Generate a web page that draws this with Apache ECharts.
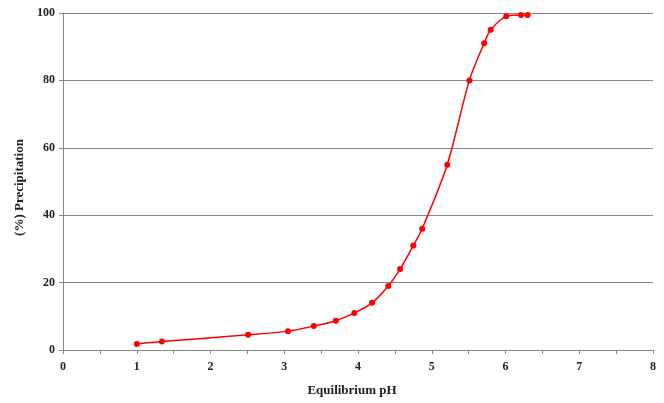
<!DOCTYPE html>
<html>
<head>
<meta charset="utf-8">
<script src="https://cdn.jsdelivr.net/npm/echarts@6/dist/echarts.min.js"></script>
<style>
  html, body { margin: 0; padding: 0; background: #fff; }
  #chart { width: 664px; height: 403px; }
</style>
</head>
<body>
<div id="chart"></div>
<script>
// equilibrium pH vs % precipitation
const phValues = [1.0, 1.34, 2.51, 3.05, 3.40, 3.70, 3.95, 4.19, 4.41, 4.57, 4.75, 4.87, 5.21, 5.51, 5.71, 5.80, 6.01, 6.21, 6.30];
const precipitation = [1.8, 2.5, 4.5, 5.6, 7.1, 8.7, 11.0, 14.0, 19.0, 24.0, 31.0, 36.0, 55.0, 80.0, 91.0, 95.0, 99.0, 99.4, 99.4];

const points = phValues.map((x, i) => [x, precipitation[i]]);

const chart = echarts.init(document.getElementById('chart'));
const labelFont = { fontFamily: 'Liberation Serif', fontWeight: 'bold', fontSize: 12, color: '#222' };
const nameFont = { fontFamily: 'Liberation Serif', fontWeight: 'bold', fontSize: 13, color: '#222' };

chart.setOption({
  animation: false,
  grid: { left: 63, right: 11, top: 13, bottom: 53, containLabel: false },
  xAxis: {
    type: 'value',
    min: 0, max: 8, interval: 1,
    name: 'Equilibrium pH',
    nameLocation: 'middle',
    nameGap: 34,
    nameTextStyle: Object.assign({ padding: [0, 12, 0, 0] }, nameFont),
    axisLine: { lineStyle: { color: '#888', width: 1 } },
    axisTick: { show: true, length: 4, lineStyle: { color: '#888' } },
    minorTick: { show: true, splitNumber: 2, length: 4, lineStyle: { color: '#888' } },
    axisLabel: Object.assign({ margin: 11 }, labelFont),
    splitLine: { show: false }
  },
  yAxis: {
    type: 'value',
    min: 0, max: 100, interval: 20,
    name: '(%) Precipitation',
    nameLocation: 'middle',
    nameGap: 36,
    nameRotate: 90,
    nameTextStyle: Object.assign({ padding: [0, 12, 0, 0] }, nameFont),
    axisLine: { show: true, lineStyle: { color: '#888', width: 1 } },
    axisTick: { show: true, length: 4, lineStyle: { color: '#888' } },
    axisLabel: Object.assign({ margin: 8 }, labelFont),
    splitLine: { show: true, lineStyle: { color: '#888', width: 1 } }
  },
  series: [{
    type: 'line',
    data: points,
    smooth: 0.3,
    symbol: 'circle',
    symbolSize: 6,
    lineStyle: { color: '#ff0000', width: 1.5 },
    itemStyle: { color: '#ff0000' }
  }]
});
</script>
</body>
</html>
